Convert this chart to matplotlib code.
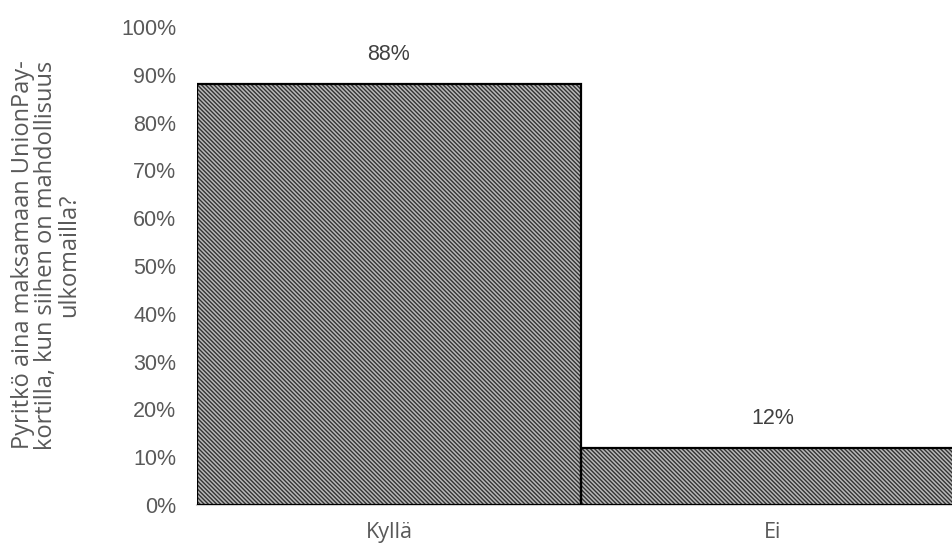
import matplotlib
matplotlib.use("Agg")
import matplotlib.pyplot as plt

categories = ["Kyllä", "Ei"]
values = [88, 12]
value_labels = ["88%", "12%"]
yticks = [0, 10, 20, 30, 40, 50, 60, 70, 80, 90, 100]
ytick_labels = [f"{t}%" for t in yticks]
ylabel = "Pyritkö aina maksamaan UnionPay-\nkortilla, kun siihen on mahdollisuus\nulkomailla?"

W, H = 952, 544
fig = plt.figure(figsize=(W / 100, H / 100), dpi=100)
left, right = 197, 965
top, bottom = 27, 505
ax = fig.add_axes([left / W, 1 - bottom / H, (right - left) / W, (bottom - top) / H])

plt.rcParams['hatch.linewidth'] = 1.0
x = list(range(len(categories)))
ax.bar(x, values, width=1.0, color="#b8b8b8", edgecolor="#333333", hatch="\\\\\\\\\\\\\\\\", linewidth=0)
ax.bar(x, values, width=1.0, fill=False, edgecolor="black", linewidth=1.6)

for xi, v, lab in zip(x, values, value_labels):
    ax.annotate(lab, (xi, v), xytext=(0, 24), textcoords="offset pixels",
                ha="center", va="baseline", fontsize=15.5, color="#404040", family="Liberation Sans")

ax.set_xlim(-0.5, 1.5)
ax.set_ylim(0, 100)
ax.set_yticks(yticks)
ax.set_yticklabels(ytick_labels, fontsize=15.5, color="#595959", family="Liberation Sans")
ax.set_xticks(x)
ax.set_xticklabels(categories, fontsize=15.5, color="#595959", family="Open Sans")
ax.tick_params(axis="y", length=0, pad=15)
ax.tick_params(axis="x", length=0, pad=12)
for s in ["top", "right", "left"]:
    ax.spines[s].set_visible(False)
ax.spines["bottom"].set_color("#d0d0d0")
ax.spines["bottom"].set_linewidth(1.5)
ax.spines["bottom"].set_zorder(0)

fig.text(46 / W, 1 - 255 / H, ylabel, rotation=90, ha="center", va="center",
         fontsize=17, color="#595959", family="Open Sans", multialignment="center",
         linespacing=0.97)

fig.savefig("out.png", dpi=100)
